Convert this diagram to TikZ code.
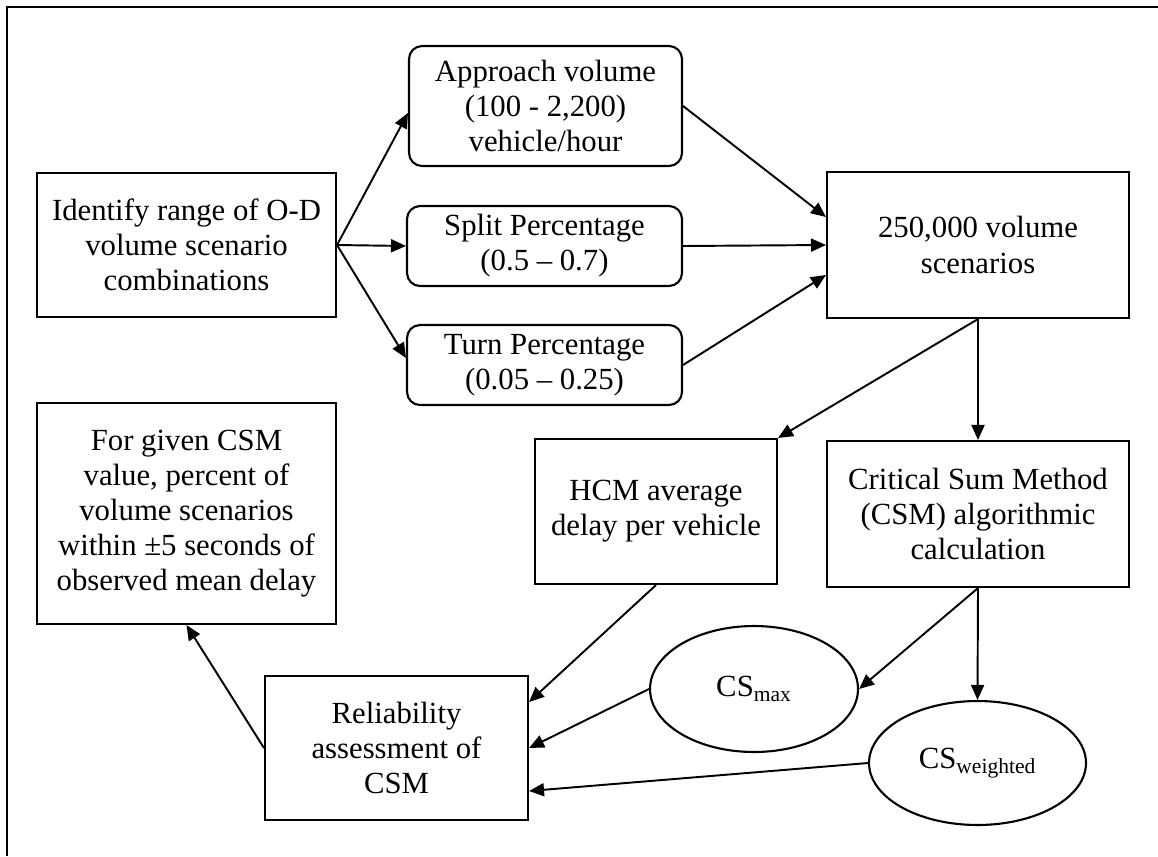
\documentclass[tikz,border=0pt]{standalone}
\usepackage{fontspec}
\setmainfont{Liberation Serif}
\usetikzlibrary{arrows.meta,positioning,shapes.geometric}
\definecolor{edge}{HTML}{000000}

\begin{document}
\begin{tikzpicture}[x=0.02cm,y=-0.02cm,
    box/.style={draw,line width=1.2pt,align=center,inner sep=0pt,font=\fontsize{17.5}{20}\selectfont},
    rbox/.style={box,rounded corners=0.26cm},
    oval/.style={box,ellipse},
    arr/.style={edge,line width=1.1pt,-{Triangle[length=0.3cm,width=0.26cm]}}]
  \useasboundingbox (0,0) rectangle (1158,856);
  % Frame
  \draw[line width=1.4pt] (1158,7) -- (7,7) -- (7,856);

  % Input ranges
  \node[box,minimum width=5.98cm,minimum height=2.88cm] (ident) at (186.5,245) {Identify range of O-D\\volume scenario\\combinations};
  \node[rbox,minimum width=5.46cm,minimum height=2.4cm] (appr) at (545.5,106) {Approach volume\\(100 - 2,200)\\vehicle/hour};
  \node[rbox,minimum width=5.5cm,minimum height=1.6cm] (split) at (544.5,246) {Split Percentage\\(0.5 -- 0.7)};
  \node[rbox,minimum width=5.5cm,minimum height=1.6cm] (turn) at (544.5,365) {Turn Percentage\\(0.05 -- 0.25)};
  \node[box,minimum width=6.04cm,minimum height=2.92cm] (scen) at (978,245) {250,000 volume\\scenarios};

  % Delay and CSM
  \node[box,minimum width=4.84cm,minimum height=2.9cm] (hcm) at (656,511.5) {HCM average\\delay per vehicle};
  \node[box,minimum width=6.04cm,minimum height=2.92cm] (csm) at (978,514) {Critical Sum Method\\(CSM) algorithmic\\calculation};
  \node[oval,minimum width=4.16cm,minimum height=2.52cm] (csmax) at (754,689) {CS\textsubscript{max}};
  \node[oval,minimum width=4.34cm,minimum height=2.48cm] (csw) at (977.5,763) {CS\textsubscript{weighted}};

  % Assessment
  \node[box,minimum width=5.26cm,minimum height=2.88cm] (relia) at (396.5,748) {Reliability\\assessment of\\CSM};
  \node[box,minimum width=5.98cm,minimum height=4.42cm] (given) at (186.5,513.5) {For given CSM\\value, percent of\\volume scenarios\\within \textpm5 seconds of\\observed mean delay};

  % Connectors
  \draw[arr] (ident.east) -- ([yshift=-0.14cm]appr.west);
  \draw[arr] (ident.east) -- (split.west);
  \draw[arr] (ident.east) -- ([yshift=0.14cm]turn.west);
  \draw[arr] (appr.east) -- ([yshift=0.56cm]scen.west);
  \draw[arr] (split.east) -- (scen.west);
  \draw[arr] (turn.east) -- ([yshift=-0.6cm]scen.west);
  \draw[arr] (scen.south) -- (csm.north);
  \draw[arr] (scen.south) -- (hcm.north east);
  \draw[arr] (csm.south) -- (csmax.east);
  \draw[arr] (csm.south) -- (csw.north);
  \draw[arr] (hcm.south) -- ([yshift=0.92cm]relia.east);
  \draw[arr] (csmax.west) -- (relia.east);
  \draw[arr] (csw.west) -- ([yshift=-0.86cm]relia.east);
  \draw[arr] (relia.west) -- (given.south);
\end{tikzpicture}
\end{document}
